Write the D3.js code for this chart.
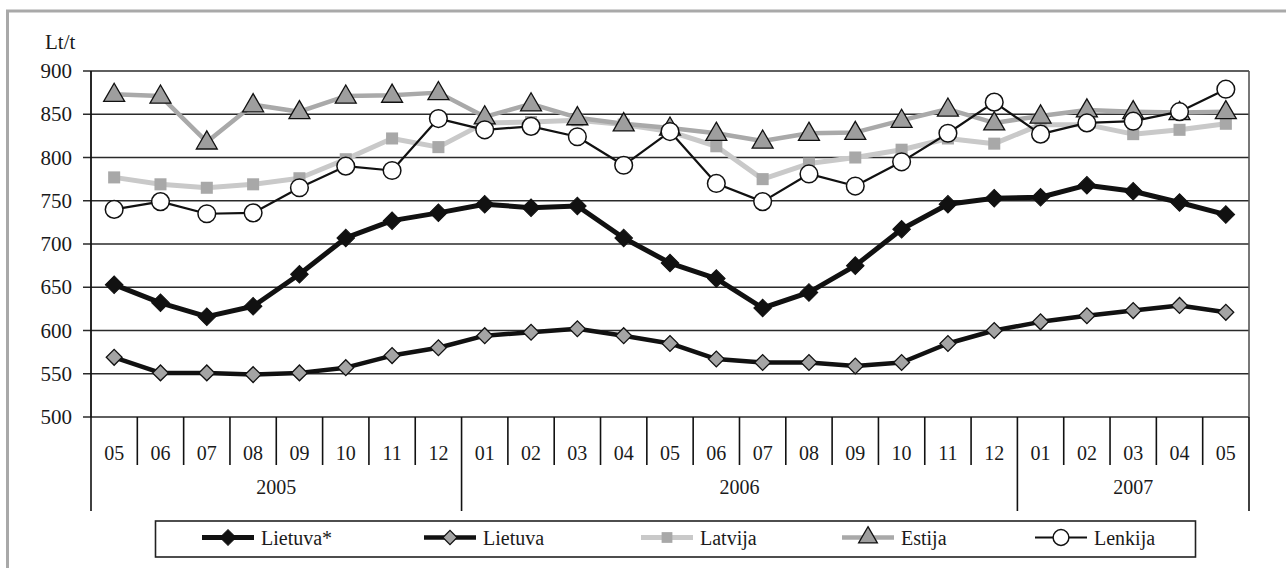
<!DOCTYPE html>
<html><head><meta charset="utf-8">
<script src="https://cdn.jsdelivr.net/npm/d3@7"></script>
<style>
html,body{margin:0;padding:0;background:#fff;}
</style></head>
<body>
<svg id="chart" width="1286" height="568" font-family="'Liberation Serif', 'DejaVu Serif', 'Times New Roman', serif"></svg>
<script>
const months = ["05","06","07","08","09","10","11","12","01","02","03","04","05","06","07","08","09","10","11","12","01","02","03","04","05"];
const years = [{label:"2005", start:0, end:8},{label:"2006", start:8, end:20},{label:"2007", start:20, end:25}];
const yTicks = [500,550,600,650,700,750,800,850,900];
const unitLabel = "Lt/t";

const lietuvaStar = [653,632,616,628,665,707,727,736,746,742,744,707,678,660,626,644,675,717,746,753,754,768,761,748,734];
const lietuva     = [569,551,551,549,551,557,571,580,594,598,602,594,585,567,563,563,559,563,585,600,610,617,623,629,621];
const latvija     = [777,769,765,769,776,798,822,812,840,841,843,838,830,813,775,793,800,809,822,816,838,838,827,832,839];
const estija      = [873,871,818,861,853,871,872,875,847,862,846,839,834,828,819,828,829,843,856,840,848,855,853,852,853];
const lenkija     = [740,749,735,736,765,790,785,845,832,836,824,791,830,770,749,781,767,795,828,864,827,840,842,853,879];

const svg = d3.select("#chart");
const FONT = "'Liberation Serif', 'DejaVu Serif', 'Times New Roman', serif";
const L = 91, R = 1249, T = 71, B = 417;
const x = d3.scaleBand().domain(d3.range(months.length)).range([L, R]).padding(0);
const y = d3.scaleLinear().domain([500, 900]).range([B, T]);
const cx = i => x(i) + x.bandwidth()/2;

// outer frame
svg.append("path").attr("d","M7.5,568 L7.5,11 L1286,11").attr("fill","none").attr("stroke","#a9a9a9").attr("stroke-width",3);

// unit
svg.append("text").attr("x",45).attr("y",49).attr("font-size",21).attr("font-family",FONT).attr("fill","#1a1a1a").text(unitLabel);

// gridlines
svg.append("g").selectAll("line").data(yTicks).join("line")
  .attr("x1", 83).attr("x2", R).attr("y1", d=>y(d)).attr("y2", d=>y(d))
  .attr("stroke","#2a2a2a").attr("stroke-width",1.6);
svg.append("line").attr("x1",R).attr("x2",R).attr("y1",T).attr("y2",B).attr("stroke","#555").attr("stroke-width",1.6);
svg.append("line").attr("x1",L).attr("x2",L).attr("y1",T).attr("y2",B).attr("stroke","#111").attr("stroke-width",1.8);

// y labels
svg.append("g").selectAll("text").data(yTicks).join("text")
  .attr("x",72).attr("y",d=>y(d)+7).attr("text-anchor","end").attr("font-size",21)
  .attr("font-family",FONT).attr("fill","#1a1a1a").text(d=>d);

// category dividers
const yearStarts = new Set(years.map(d=>d.start).concat([months.length]));
svg.append("g").selectAll("line").data(d3.range(months.length+1)).join("line")
  .attr("x1", i => i<months.length ? x(i) : R).attr("x2", i => i<months.length ? x(i) : R)
  .attr("y1", B).attr("y2", i => yearStarts.has(i) ? 511 : 465)
  .attr("stroke","#111").attr("stroke-width",1.6);
svg.append("g").selectAll("text").data(months).join("text")
  .attr("x",(d,i)=>cx(i)).attr("y",460).attr("text-anchor","middle").attr("font-size",20)
  .attr("font-family",FONT).attr("fill","#1a1a1a").text(d=>d);
svg.append("g").selectAll("text").data(years).join("text")
  .attr("x",d=>(x(d.start) + (d.end<months.length ? x(d.end) : R))/2).attr("y",494)
  .attr("text-anchor","middle").attr("font-size",20).attr("font-family",FONT).attr("fill","#1a1a1a").text(d=>d.label);

const line = d3.line().x((d,i)=>cx(i)).y(d=>y(d));

const series = [
  {name:"Latvija", data:latvija, color:"#c9c9c9", width:5, sym:d3.symbolSquare, size:145, rot:0, fill:"#a8a8a8", stroke:"none", sw:0},
  {name:"Estija", data:estija, color:"#a9a9a9", width:4.5, sym:d3.symbolTriangle, size:190, rot:0, fill:"#9e9e9e", stroke:"#111", sw:1.3},
  {name:"Lenkija", data:lenkija, color:"#111", width:2.2, sym:d3.symbolCircle, size:245, rot:0, fill:"#fff", stroke:"#111", sw:1.5},
  {name:"Lietuva", data:lietuva, color:"#111", width:4.5, sym:d3.symbolSquare, size:125, rot:45, fill:"#a4a4a4", stroke:"#111", sw:1.3},
  {name:"Lietuva*", data:lietuvaStar, color:"#111", width:5, sym:d3.symbolSquare, size:155, rot:45, fill:"#111", stroke:"#111", sw:1},
];

series.forEach(s => {
  const g = svg.append("g");
  g.append("path").datum(s.data).attr("d", line).attr("fill","none")
    .attr("stroke", s.color).attr("stroke-width", s.width).attr("stroke-linejoin","round");
  g.selectAll("path.m").data(s.data).join("path").attr("class","m")
    .attr("transform",(d,i)=>`translate(${cx(i)},${y(d) + (s.sym===d3.symbolTriangle?1:0)}) rotate(${s.rot})`)
    .attr("d", d3.symbol().type(s.sym).size(s.size))
    .attr("fill", s.fill).attr("stroke", s.stroke).attr("stroke-width", s.sw);
});

// legend
const lg = svg.append("g");
lg.append("rect").attr("x",155.5).attr("y",521).attr("width",1040).attr("height",36)
  .attr("fill","#fff").attr("stroke","#222").attr("stroke-width",1.6);
const legendOrder = ["Lietuva*","Lietuva","Latvija","Estija","Lenkija"];
const legendX = [202, 424, 641, 842, 1035];
legendOrder.forEach((n,k) => {
  const s = series.find(d=>d.name===n);
  const x0 = legendX[k], ly = 537.5;
  lg.append("line").attr("x1",x0).attr("x2",x0+52).attr("y1",ly).attr("y2",ly)
    .attr("stroke",s.color).attr("stroke-width",s.width);
  lg.append("path").attr("transform",`translate(${x0+26},${ly}) rotate(${s.rot})`)
    .attr("d", d3.symbol().type(s.sym).size(s.size*0.8))
    .attr("fill",s.fill).attr("stroke",s.stroke).attr("stroke-width",s.sw);
  lg.append("text").attr("x",x0+59).attr("y",ly+7).attr("font-size",20)
    .attr("font-family",FONT).attr("fill","#1a1a1a").text(n);
});
</script>
</body></html>
